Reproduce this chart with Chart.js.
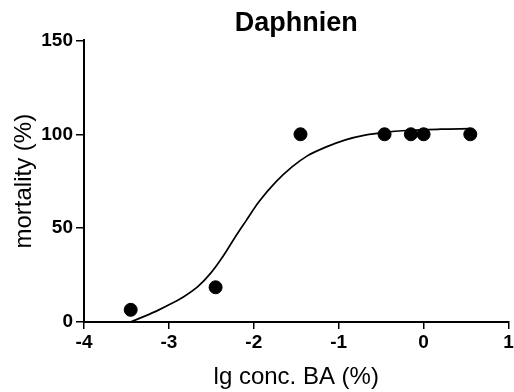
<!DOCTYPE html>
<html>
<head>
<meta charset="utf-8">
<script src="https://cdn.jsdelivr.net/npm/chart.js@4.4.0/dist/chart.umd.min.js"></script>
<style>
  html, body { margin: 0; padding: 0; background: #fff; overflow: hidden; }
  #wrap { width: 514px; height: 392px; overflow: hidden; }
</style>
</head>
<body>
<div id="wrap"><canvas id="grafico" width="516" height="392"></canvas></div>
<script>
// puntos medidos
var doseX = [-3.45, -2.45, -1.45, -0.46, -0.15, 0, 0.55]
var mortality = [6.5, 18.5, 100, 100, 100, 100, 100]
// curva ajustada
var fitX = [-3.45, -3.29, -3.13, -2.97, -2.82, -2.66, -2.51, -2.37, -2.23, -2.09, -1.94, -1.74, -1.55, -1.37, -1.16, -0.92, -0.69, -0.46, -0.2, 0.2, 0.55]
var fitY = [0, 3.0, 6.2, 9.8, 13.6, 18.8, 25.9, 34.5, 44.5, 54, 64, 74.6, 82.6, 88.5, 93, 97, 99.5, 101, 102, 102.7, 103]
var xTicks = [-4, -3, -2, -1, 0, 1]
var yTicks = [0, 50, 100, 150]

function crearGrafico(){
    var ctx = document.getElementById("grafico").getContext('2d')
    var fuente = "'Liberation Sans', Arial, sans-serif"

    new Chart(ctx, {
        type: 'scatter',
        data: {
            datasets: [
            {
                label: "fit",
                type: 'line',
                data: fitX.map(function(x, i){ return {x: x, y: fitY[i]} }),
                borderColor: '#000',
                borderWidth: 1.7,
                pointRadius: 0,
                cubicInterpolationMode: 'monotone',
                fill: false
            },
            {
                label: "Daphnien",
                data: doseX.map(function(x, i){ return {x: x, y: mortality[i]} }),
                backgroundColor: '#000',
                borderColor: '#000',
                pointRadius: 6.5,
                pointHoverRadius: 6.5
            }
            ]
        },
        options: {
            responsive: false,
            maintainAspectRatio: false,
            animation: false,
            layout: { padding: 0 },
            plugins: {
                legend: { display: false },
                tooltip: { enabled: false },
                title: {
                    display: true,
                    fullSize: false,
                    text: 'Daphnien',
                    color: '#000',
                    font: { family: fuente, size: 27, weight: 'bold' },
                    padding: { top: 7, bottom: 1 }
                }
            },
            scales: {
                x: {
                    type: 'linear',
                    min: -4,
                    max: 1,
                    afterBuildTicks: function(s){ s.ticks = xTicks.map(function(v){ return {value: v} }) },
                    afterFit: function(s){ s.height = 70 },
                    border: { color: '#000', width: 2 },
                    grid: { drawOnChartArea: false, drawTicks: true, tickLength: 7, color: '#000', lineWidth: 1.5 },
                    ticks: { color: '#000', padding: 2, font: { family: fuente, size: 19, weight: 'bold' }, maxRotation: 0 },
                    title: { display: true, text: 'lg conc. BA (%)', color: '#000', font: { family: fuente, size: 24 }, padding: { top: 3, bottom: 0 } }
                },
                y: {
                    min: 0,
                    max: 150,
                    afterBuildTicks: function(s){ s.ticks = yTicks.map(function(v){ return {value: v} }) },
                    afterFit: function(s){ s.width = 84 },
                    border: { color: '#000', width: 2 },
                    grid: { drawOnChartArea: false, drawTicks: true, tickLength: 8, color: '#000', lineWidth: 1.5 },
                    ticks: { color: '#000', padding: 3, font: { family: fuente, size: 19, weight: 'bold' } },
                    title: { display: true, text: 'mortality (%)', color: '#000', font: { family: fuente, size: 24 }, padding: { top: 10, bottom: 0 } }
                }
            }
        }
    })
}
document.addEventListener('DOMContentLoaded', crearGrafico)
</script>
</body>
</html>
